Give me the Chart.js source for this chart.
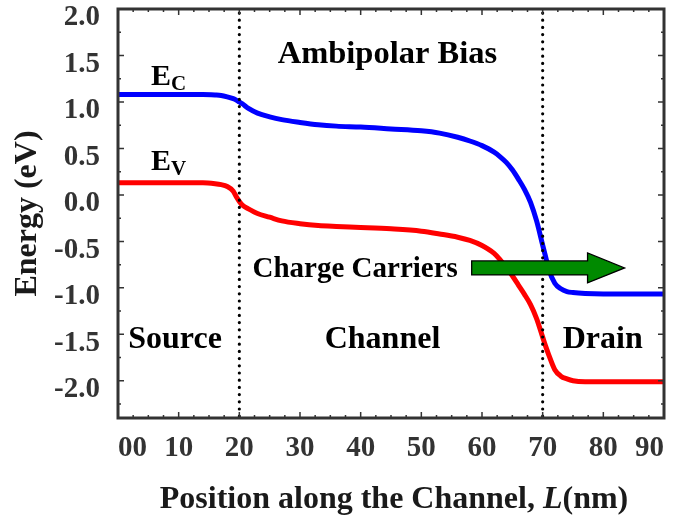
<!DOCTYPE html>
<html>
<head>
<meta charset="utf-8">
<script src="https://cdn.jsdelivr.net/npm/chart.js@4.4.0/dist/chart.umd.min.js"></script>
<style>
  html, body { margin: 0; padding: 0; background: #fff; }
  #wrap { width: 675px; height: 520px; }
</style>
</head>
<body>
<div id="wrap"><canvas id="bandChart"></canvas></div>
<script>
// Position along the channel (nm)
const positionNm = [0, 5, 10, 14, 16, 17, 18, 19, 19.5, 20, 20.5, 21.5, 23, 25, 27, 30, 33, 36, 40, 45, 50, 53, 56, 58, 60, 62, 63, 64, 65, 66, 67, 68, 69, 70, 70.5, 71, 72, 73, 74, 75, 77, 80, 85, 90];
// Conduction band edge E_C (eV)
const conductionBand = [1.08, 1.08, 1.08, 1.08, 1.075, 1.07, 1.055, 1.035, 1.02, 1.0, 0.98, 0.93, 0.88, 0.84, 0.81, 0.78, 0.755, 0.74, 0.73, 0.71, 0.69, 0.665, 0.62, 0.58, 0.53, 0.46, 0.41, 0.35, 0.27, 0.17, 0.06, -0.08, -0.28, -0.54, -0.67, -0.8, -0.95, -1.01, -1.04, -1.05, -1.06, -1.065, -1.065, -1.065];
// Valence band edge E_V (eV)
const valenceBand = [0.13, 0.13, 0.13, 0.13, 0.12, 0.11, 0.09, 0.04, -0.02, -0.07, -0.11, -0.15, -0.2, -0.24, -0.28, -0.31, -0.33, -0.34, -0.35, -0.365, -0.39, -0.42, -0.455, -0.49, -0.545, -0.63, -0.7, -0.78, -0.87, -0.97, -1.07, -1.18, -1.33, -1.53, -1.63, -1.72, -1.88, -1.95, -1.98, -2.0, -2.01, -2.01, -2.01, -2.01];

const xTicks = [0, 10, 20, 30, 40, 50, 60, 70, 80, 90];
const yTicks = [-2.0, -1.5, -1.0, -0.5, 0.0, 0.5, 1.0, 1.5, 2.0];
const regionBoundaries = [20, 70];

// Text placed in data units (x in nm, y in eV, y is the baseline)
const plotLabels = [
  { text: 'Ambipolar Bias', x: 44.4, y: 1.42, size: 32.5 },
  { text: 'Source', x: 9.4, y: -1.65, size: 32 },
  { text: 'Channel', x: 43.6, y: -1.65, size: 32 },
  { text: 'Drain', x: 79.9, y: -1.65, size: 32 },
  { text: 'Charge Carriers', x: 39.1, y: -0.88, size: 29 }
];
const bandLabels = [
  { main: 'E', sub: 'C', x: 5.45, y: 1.18 },
  { main: 'E', sub: 'V', x: 5.45, y: 0.27 }
];
// Carrier arrow: tail, head base, tip (nm) and centre line (eV)
const arrowTail = 58.3, arrowHeadBase = 77.4, arrowTip = 83.5, arrowLevel = -0.785;

const SERIF = '"Liberation Serif", "Times New Roman", serif';

const toPoints = ys => positionNm.map((x, i) => ({ x: x, y: ys[i] }));

const decorations = {
  id: 'decorations',
  afterDatasetsDraw(chart) {
    const ctx = chart.ctx;
    const { left, right, top, bottom } = chart.chartArea;
    const xs = chart.scales.x, ys = chart.scales.y;

    // dotted region boundaries
    ctx.save();
    ctx.strokeStyle = '#000';
    ctx.lineWidth = 3.2;
    ctx.lineCap = 'round';
    ctx.setLineDash([0, 7.2]);
    regionBoundaries.forEach(b => {
      const px = xs.getPixelForValue(b);
      ctx.beginPath();
      ctx.moveTo(px, top + 4);
      ctx.lineTo(px, bottom);
      ctx.stroke();
    });
    ctx.restore();

    // green arrow
    const x0 = xs.getPixelForValue(arrowTail);
    const x1 = xs.getPixelForValue(arrowHeadBase);
    const x2 = xs.getPixelForValue(arrowTip);
    const yc = ys.getPixelForValue(arrowLevel);
    ctx.save();
    ctx.beginPath();
    ctx.moveTo(x0, yc - 7);
    ctx.lineTo(x1, yc - 7);
    ctx.lineTo(x1, yc - 15);
    ctx.lineTo(x2, yc);
    ctx.lineTo(x1, yc + 15);
    ctx.lineTo(x1, yc + 7);
    ctx.lineTo(x0, yc + 7);
    ctx.closePath();
    ctx.fillStyle = '#008a00';
    ctx.fill();
    ctx.strokeStyle = '#000';
    ctx.lineWidth = 1.3;
    ctx.stroke();
    ctx.restore();

    // inward ticks on all four sides
    ctx.save();
    ctx.strokeStyle = '#333';
    ctx.lineWidth = 1.5;
    for (let v = 0; v <= 90; v += 2.5) {
      const px = xs.getPixelForValue(v);
      const len = v % 10 === 0 ? 6 : 3;
      ctx.beginPath();
      ctx.moveTo(px, bottom); ctx.lineTo(px, bottom - len);
      ctx.moveTo(px, top); ctx.lineTo(px, top + len);
      ctx.stroke();
    }
    for (let k = -9; k <= 8; k++) {
      const py = ys.getPixelForValue(k * 0.25);
      const len = k % 2 === 0 ? 6 : 3;
      ctx.beginPath();
      ctx.moveTo(left, py); ctx.lineTo(left + len, py);
      ctx.moveTo(right, py); ctx.lineTo(right - len, py);
      ctx.stroke();
    }
    // frame
    ctx.lineWidth = 3;
    ctx.strokeRect(left, top, right - left, bottom - top);
    ctx.restore();

    // text inside the plot
    ctx.save();
    ctx.fillStyle = '#000';
    ctx.textBaseline = 'alphabetic';
    ctx.textAlign = 'center';
    plotLabels.forEach(l => {
      ctx.font = 'bold ' + l.size + 'px ' + SERIF;
      ctx.fillText(l.text, xs.getPixelForValue(l.x), ys.getPixelForValue(l.y));
    });
    ctx.textAlign = 'left';
    bandLabels.forEach(l => {
      const px = xs.getPixelForValue(l.x);
      const py = ys.getPixelForValue(l.y);
      ctx.font = 'bold 30px ' + SERIF;
      ctx.fillText(l.main, px, py);
      const w = ctx.measureText(l.main).width;
      ctx.font = 'bold 21px ' + SERIF;
      ctx.fillText(l.sub, px + w, py + 5);
    });
    ctx.restore();
  },
  afterDraw(chart) {
    // x-axis title with an italic L
    const ctx = chart.ctx;
    const { left, right } = chart.chartArea;
    const parts = [
      { t: 'Position along the Channel, ', f: 'bold 32px ' + SERIF },
      { t: 'L', f: 'italic bold 32px ' + SERIF },
      { t: '(nm)', f: 'bold 32px ' + SERIF }
    ];
    ctx.save();
    ctx.fillStyle = '#1a1a1a';
    ctx.textBaseline = 'alphabetic';
    ctx.textAlign = 'left';
    let total = 0;
    parts.forEach(p => { ctx.font = p.f; p.w = ctx.measureText(p.t).width; total += p.w; });
    let x = (left + right) / 2 - total / 2 + 3;
    parts.forEach(p => { ctx.font = p.f; ctx.fillText(p.t, x, 508); x += p.w; });
    ctx.restore();
  }
};

new Chart(document.getElementById('bandChart'), {
  type: 'line',
  data: {
    datasets: [
      {
        label: 'E_C',
        data: toPoints(conductionBand),
        borderColor: '#0000ff',
        borderWidth: 5,
        pointRadius: 0,
        cubicInterpolationMode: 'monotone',
        fill: false
      },
      {
        label: 'E_V',
        data: toPoints(valenceBand),
        borderColor: '#ff0000',
        borderWidth: 5,
        pointRadius: 0,
        cubicInterpolationMode: 'monotone',
        fill: false
      }
    ]
  },
  options: {
    responsive: true,
    maintainAspectRatio: false,
    animation: false,
    layout: { padding: { top: 9, right: 11, left: 0, bottom: 0 } },
    plugins: {
      legend: { display: false },
      tooltip: { enabled: false }
    },
    scales: {
      x: {
        type: 'linear',
        min: 0,
        max: 90,
        afterBuildTicks: s => { s.ticks = xTicks.map(v => ({ value: v })); },
        afterFit: s => { s.height = 102; s.paddingLeft = 0; s.paddingRight = 0; },
        grid: { display: false, drawTicks: false },
        border: { display: false },
        ticks: {
          autoSkip: false,
          maxRotation: 0,
          align: 'inner',
          padding: 13,
          color: '#333',
          font: { family: SERIF, size: 29, weight: 'bold' },
          callback: v => (v === 0 ? '00' : String(v))
        }
      },
      y: {
        min: -2.4,
        max: 2.0,
        afterBuildTicks: s => { s.ticks = yTicks.map(v => ({ value: v })); },
        afterFit: s => { s.width = 118; s.paddingTop = 0; s.paddingBottom = 0; },
        grid: { display: false, drawTicks: false },
        border: { display: false },
        ticks: {
          padding: 18,
          labelOffset: 9,
          color: '#333',
          font: { family: SERIF, size: 29, weight: 'bold' },
          callback: v => v.toFixed(1)
        },
        title: {
          display: true,
          text: 'Energy (eV)',
          color: '#1a1a1a',
          font: { family: SERIF, size: 32, weight: 'bold' },
          padding: { top: 9, bottom: 0 }
        }
      }
    }
  },
  plugins: [decorations]
});
</script>
</body>
</html>
